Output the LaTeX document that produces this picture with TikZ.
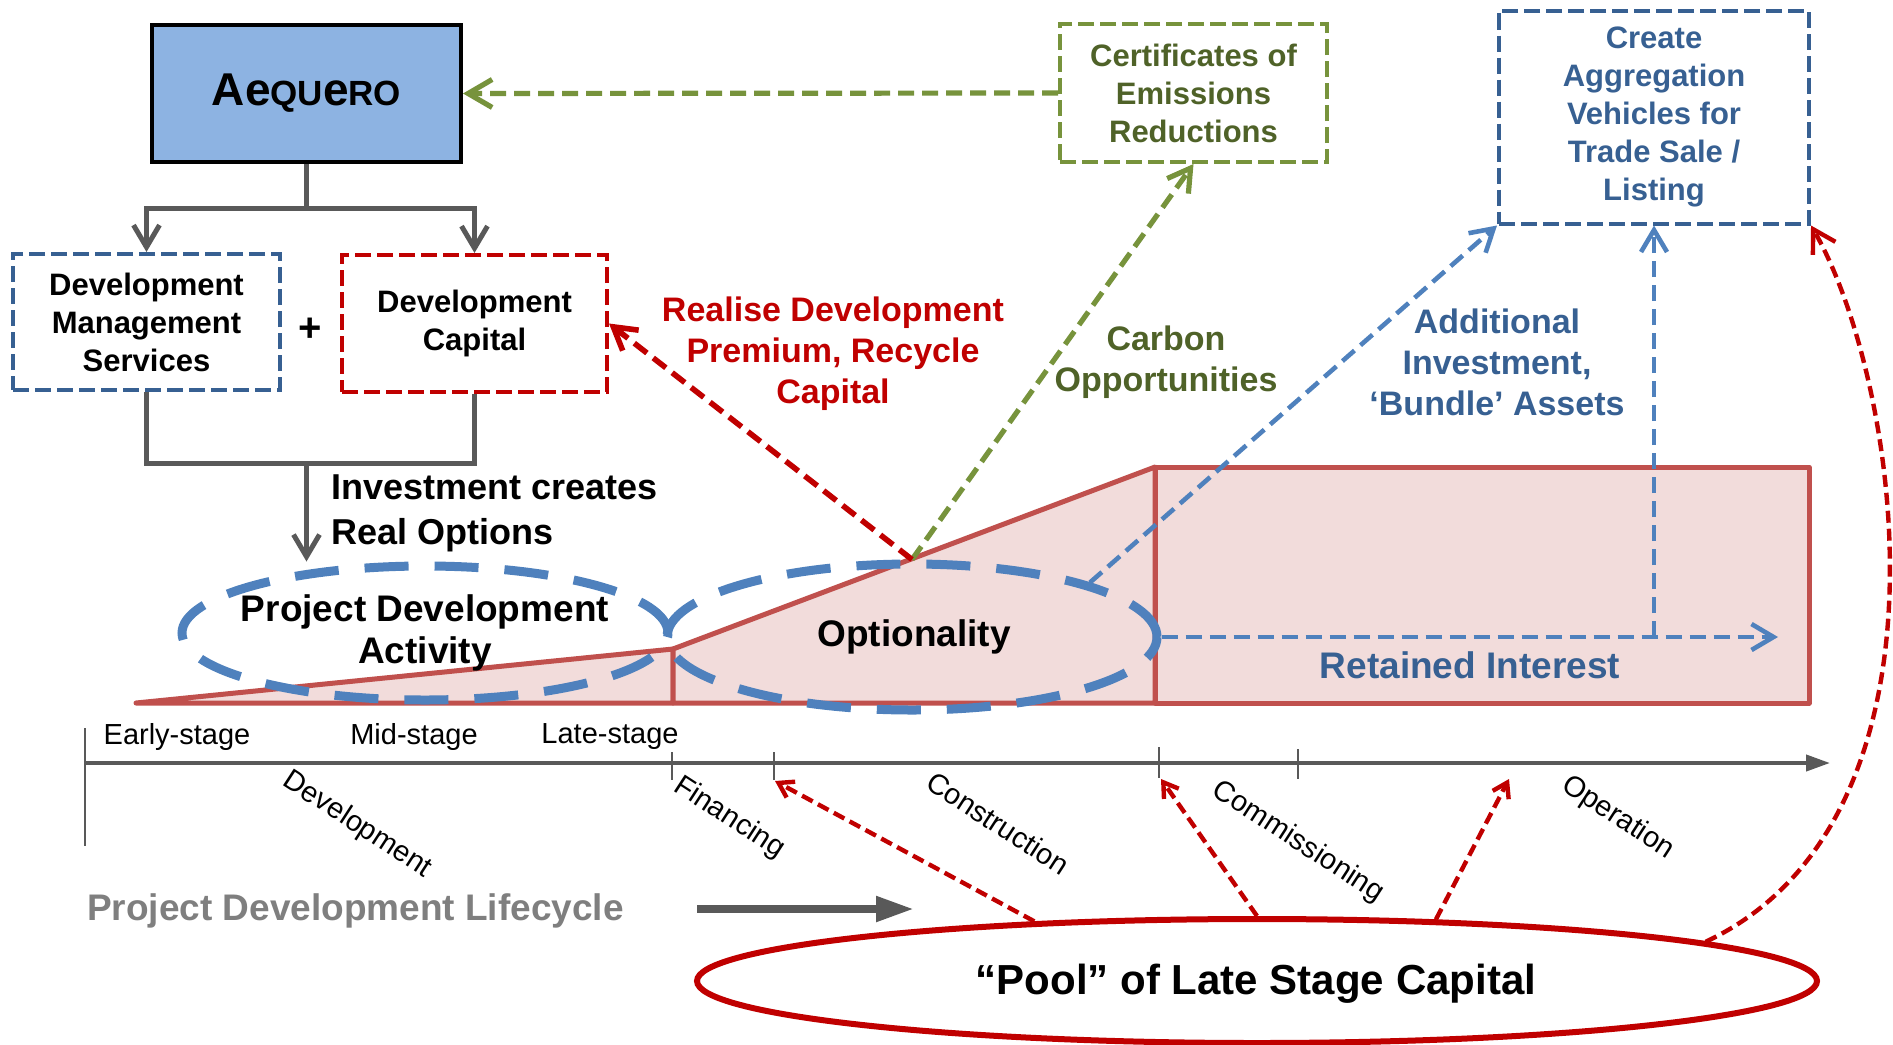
\documentclass[tikz,border=0pt]{standalone}
\usepackage{fontspec}
\setmainfont{Liberation Sans}
\usetikzlibrary{arrows.meta,shapes.geometric}

\definecolor{aeqblue}{HTML}{8DB3E2}
\definecolor{darkblue}{HTML}{376092}
\definecolor{midblue}{HTML}{4F81BD}
\definecolor{darkred}{HTML}{C00000}
\definecolor{stagered}{HTML}{C0504D}
\definecolor{stagepink}{HTML}{F2DCDB}
\definecolor{certgreen}{HTML}{77933C}
\definecolor{darkolive}{HTML}{4F6228}
\definecolor{linegray}{HTML}{595959}
\definecolor{textgray}{HTML}{7F7F7F}

\newcommand\fntBox{\bfseries\fontsize{15.5}{19}\selectfont}
\newcommand\fntNote{\bfseries\fontsize{17}{20.5}\selectfont}
\newcommand\fntBig{\bfseries\fontsize{18.5}{21}\selectfont}
\newcommand\fntStage{\fontsize{14.5}{17}\selectfont}

\begin{document}
\begin{tikzpicture}[x=0.5pt,y=-0.5pt,
    box/.style={draw,line width=2pt,dash pattern=on 8pt off 3pt,fill=white,inner sep=0pt,align=center,font=\fntBox},
    oval/.style={ellipse,draw=midblue,line width=4.5pt,dash pattern=on 22pt off 13pt,inner sep=0pt},
    stagearea/.style={draw=stagered,fill=stagepink,line width=2.5pt,line join=round},
    grayline/.style={draw=linegray,line width=2.5pt},
    barb/.style={-{Straight Barb[length=11pt,width=13pt]}},
    smallbarb/.style={-{Straight Barb[length=7pt,width=9pt]}},
    greendash/.style={draw=certgreen,line width=2.6pt,dash pattern=on 8pt off 4pt},
    bluedash/.style={draw=midblue,line width=2.3pt,dash pattern=on 8pt off 4pt},
    reddash/.style={draw=darkred,line width=2.8pt,dash pattern=on 8pt off 4pt},
    pooldash/.style={draw=darkred,line width=2.2pt,dash pattern=on 6pt off 3pt},
    stagelbl/.style={font=\fntStage},
    phaselbl/.style={font=\fntStage,rotate=-33}]
    \useasboundingbox (0,0) rectangle (1893,1044);

    \draw[stagearea] (136,703) -- (673,649) -- (673,703) -- cycle;
    \draw[stagearea] (673,703) -- (673,649) -- (1155,467) -- (1155,703) -- cycle;
    \draw[stagearea] (1155,467) rectangle (1809,703);

    \draw[draw=linegray,line width=2pt,-{Triangle[length=12pt,width=8pt]}] (85,763) -- (1830,763);
    \draw[draw=linegray,line width=1pt] (85,728) -- (85,846);
    \draw[draw=linegray,line width=1pt] (672,752) -- (672,780);
    \draw[draw=linegray,line width=1pt] (774,752) -- (774,780);
    \draw[draw=linegray,line width=1pt] (1159,747) -- (1159,778);
    \draw[draw=linegray,line width=1pt] (1298,749) -- (1298,779);

    \node[stagelbl] (early) at (177,737) {Early-stage};
    \node[stagelbl] (mid) at (414,737) {Mid-stage};
    \node[stagelbl] (late) at (610,737) {Late-stage};
    \node[phaselbl] (devlbl) at (357,825) {Development};
    \node[phaselbl] (finlbl) at (729,818) {Financing};
    \node[phaselbl] (conlbl) at (998,823) {Construction};
    \node[phaselbl] (comlbl) at (1298,842) {Commissioning};
    \node[phaselbl] (oplbl) at (1618,818) {Operation};

    \node[oval,minimum width=243pt,minimum height=67pt] (pda) at (425,633) {};
    \node[oval,minimum width=245pt,minimum height=73pt] (opt) at (912,637) {};
    \node[font=\fntBig,align=center] (pdatext) at (pda) {Project Development\\Activity};
    \node[font=\fntBig] (opttext) at (914,637) {Optionality};
    \node[font=\fntBig,text=darkblue] (retained) at (1470,665) {Retained Interest};

    \node[draw=black,line width=2pt,fill=aeqblue,minimum width=154.5pt,minimum height=68.5pt,inner sep=0pt,font=\bfseries] (aeq) at (306.5,93.5)
        {\raisebox{-2.5pt}{\fontsize{23}{26}\selectfont Ae{\fontsize{17.5}{20}\selectfont QU}e{\fontsize{17.5}{20}\selectfont RO}}};
    \node[box,draw=darkblue,minimum width=133.5pt,minimum height=68pt] (dms) at (146.5,322) {Development\\Management\\Services};
    \node[box,draw=darkred,minimum width=132.5pt,minimum height=68.5pt] (dcap) at (474.5,323.5) {Development\\Capital};
    \node[font=\bfseries\fontsize{20}{20}\selectfont] (plus) at (310,330) {+};
    \node[box,draw=certgreen,text=darkolive,minimum width=133.5pt,minimum height=69pt] (cert) at (1193.5,93) {Certificates of\\Emissions\\Reductions};
    \node[box,draw=darkblue,text=darkblue,minimum width=155pt,minimum height=106.5pt] (create) at (1654,117) {Create\\Aggregation\\Vehicles for\\Trade Sale /\\Listing};

    \node[anchor=west,align=left,font=\bfseries\fontsize{18}{22.5}\selectfont] (invest) at (324,513) {Investment creates\\Real Options};
    \node[font=\fntNote,text=darkred,align=center] (realise) at (833,354) {Realise Development\\Premium, Recycle\\Capital};
    \node[font=\fntNote,text=darkolive,align=center] (carbon) at (1166,362) {Carbon\\Opportunities};
    \node[font=\fntNote,text=darkblue,align=center] (addinv) at (1497,362) {Additional\\Investment,\\‘Bundle’ Assets};

    \node[ellipse,draw=darkred,line width=3pt,minimum width=560pt,minimum height=62pt,inner sep=0pt] (pool) at (1257,981) {};
    \node[font=\bfseries\fontsize{21}{25}\selectfont] (pooltext) at (1256,984) {“Pool” of Late Stage Capital};
    \node[anchor=west,font=\fntBig,text=textgray] (lifecycle) at (80,911) {Project Development Lifecycle};

    \coordinate (split) at (306.5,208);
    \coordinate (join) at (306.5,463);
    \draw[grayline] (aeq.south) -- (split);
    \draw[grayline,barb] (split) -| (dms.north);
    \draw[grayline,barb] (split) -| (dcap.north);
    \draw[grayline] (dms.south) |- (join) -| (dcap.south);
    \draw[grayline,barb] (join) -- (join |- pda.north);

    \draw[greendash,-{Straight Barb[length=12pt,width=14pt]}] (cert.west) -- (aeq.east);
    \draw[greendash,barb] (opt.north) -- (cert.south);
    \draw[reddash,barb] (opt.north) -- (dcap.east);

    \coordinate (retTip) at (1778,637);
    \draw[bluedash,barb] (opt.east) -- (retTip);
    \draw[bluedash,barb] (opt.east -| create.south) -- (create.south);
    \draw[bluedash,barb] (opt.17) -- (create.south west);

    \coordinate (finTick) at (775,781);
    \coordinate (comTick) at (1161,779);
    \coordinate (opTick) at (1509,779);
    \draw[pooldash,smallbarb] (pool.165) -- (finTick);
    \draw[pooldash,smallbarb] (pool.north) -- (comTick);
    \draw[pooldash,smallbarb] (pool.19) -- (opTick);
    \draw[pooldash,barb] (pool.5) .. controls (1965,820) and (1900,380) .. (create.south east);

    \coordinate (lcStart) at (697,909);
    \coordinate (lcEnd) at (914,909);
    \draw[draw=linegray,line width=4pt,-{Triangle[length=19pt,width=12pt]}] (lcStart) -- (lcEnd);
\end{tikzpicture}
\end{document}
